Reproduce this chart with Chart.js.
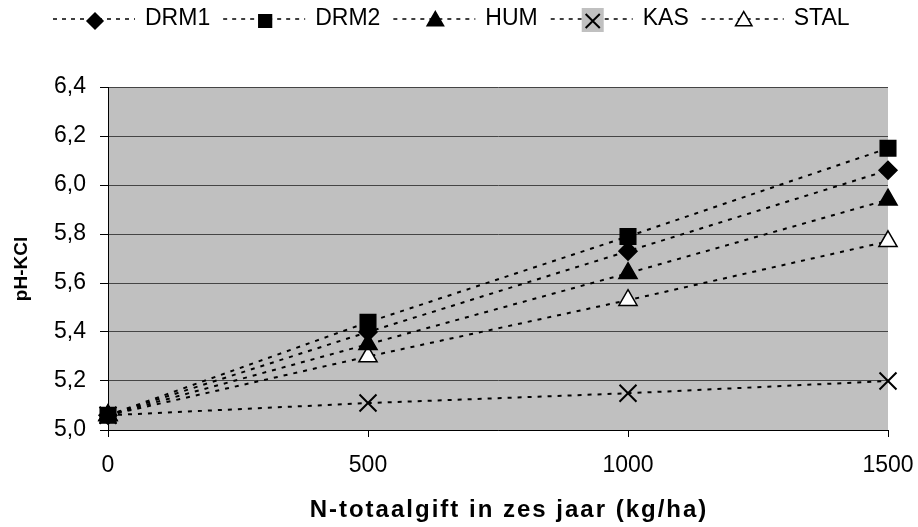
<!DOCTYPE html>
<html>
<head>
<meta charset="utf-8">
<script src="https://cdn.jsdelivr.net/npm/chart.js@4"></script>
<style>
  html, body { margin: 0; padding: 0; background: #fff; }
  #wrap { width: 918px; height: 527px; }
</style>
</head>
<body>
<div id="wrap"><canvas id="chart1" width="918" height="527"></canvas></div>
<script>
// N-gift (kg/ha) and pH-KCl per meststof
const nGift = [0, 500, 1000, 1500];
const drm1 = [5.06, 5.40, 5.73, 6.06];
const drm2 = [5.06, 5.44, 5.79, 6.15];
const hum = [5.06, 5.35, 5.64, 5.94];
const kas = [5.06, 5.11, 5.15, 5.20];
const stal = [5.06, 5.30, 5.53, 5.77];
const yTicks = ['5,0', '5,2', '5,4', '5,6', '5,8', '6,0', '6,2', '6,4'];
const xTitle = 'N-totaalgift in zes jaar (kg/ha)';
const yTitle = 'pH-KCl';

const FONT = "Arial, 'Liberation Sans', sans-serif";

function toPoints(values) {
    return nGift.map((x, i) => ({ x: x, y: values[i] }));
}

function series(label, values, style, radius, fill, legendRadius) {
    return {
        label: label,
        data: toPoints(values),
        borderColor: 'black',
        borderWidth: 2,
        borderDash: [4, 6],
        pointStyle: style,
        pointRadius: radius,
        pointHoverRadius: radius,
        pointBackgroundColor: fill,
        pointBorderColor: 'black',
        pointBorderWidth: style === 'crossRot' ? 2 : 1.5,
        legendRadius: legendRadius,
        fill: false,
        tension: 0,
    };
}

// grey plot background
const plotBg = {
    id: 'plotBg',
    beforeDraw(chart) {
        const a = chart.chartArea;
        const ctx = chart.ctx;
        ctx.save();
        ctx.fillStyle = '#c0c0c0';
        ctx.fillRect(a.left, a.top, a.right - a.left, a.bottom - a.top);
        ctx.restore();
    }
};

// axis titles, drawn by hand to get the spacing of the original
const axisTitles = {
    id: 'axisTitles',
    afterDraw(chart) {
        const ctx = chart.ctx;
        ctx.save();
        ctx.fillStyle = 'black';
        ctx.textAlign = 'center';
        ctx.textBaseline = 'middle';
        ctx.font = 'bold 24px ' + FONT;
        ctx.letterSpacing = '2px';
        ctx.fillText(xTitle, 509, 510);
        ctx.letterSpacing = '0px';
        ctx.font = 'bold 19px ' + FONT;
        ctx.translate(22, 269);
        ctx.rotate(-Math.PI / 2);
        ctx.fillText(yTitle, 0, 0);
        ctx.restore();
    }
};

// legend with dashed line + marker, like the original
const lineLegend = {
    id: 'lineLegend',
    afterDraw(chart) {
        const ctx = chart.ctx;
        const y = 19;
        const lineLen = 82;
        const gap = 10;
        const itemGap = 13;
        ctx.save();
        ctx.font = '23px ' + FONT;
        let x = 53;
        chart.data.datasets.forEach(ds => {
            ctx.setLineDash([4, 5]);
            ctx.lineWidth = 1.5;
            ctx.strokeStyle = 'black';
            ctx.beginPath();
            ctx.moveTo(x, y);
            ctx.lineTo(x + lineLen, y);
            ctx.stroke();
            ctx.setLineDash([]);
            const mx = x + 42;
            if (ds.label === 'KAS') {
                ctx.fillStyle = '#c0c0c0';
                ctx.fillRect(mx - 11, y - 11, 22, 24);
            }
            ctx.fillStyle = ds.pointBackgroundColor;
            ctx.strokeStyle = 'black';
            ctx.lineWidth = ds.pointBorderWidth;
            Chart.helpers.drawPoint(ctx, {
                pointStyle: ds.pointStyle,
                radius: ds.legendRadius,
                borderWidth: ds.pointBorderWidth,
            }, mx, y + 2);
            ctx.fillStyle = 'black';
            ctx.textBaseline = 'middle';
            ctx.textAlign = 'left';
            ctx.fillText(ds.label, x + lineLen + gap, y);
            x += lineLen + gap + ctx.measureText(ds.label).width + itemGap;
        });
        ctx.restore();
    }
};

const getChartElement = document.getElementById('chart1');
new Chart(getChartElement, {
    type: 'line',
    data: {
        datasets: [
            series('DRM1', drm1, 'rectRot', 9, 'black', 8),
            series('DRM2', drm2, 'rect', 11, 'black', 9),
            series('HUM', hum, 'triangle', 10.5, 'black', 9.5),
            series('KAS', kas, 'crossRot', 12, 'black', 10),
            series('STAL', stal, 'triangle', 10.5, 'white', 9.5),
        ]
    },
    options: {
        responsive: false,
        animation: false,
        clip: false,
        layout: {
            padding: { top: 87, right: 30, left: 0, bottom: 0 },
        },
        plugins: {
            legend: { display: false },
            tooltip: { enabled: false },
        },
        scales: {
            x: {
                type: 'linear',
                min: 0,
                max: 1500,
                afterBuildTicks: (scale) => {
                    scale.ticks = nGift.map(v => ({ value: v }));
                },
                afterFit: (scale) => {
                    scale.height = 97;
                    scale.paddingLeft = 0;
                    scale.paddingRight = 0;
                },
                title: { display: false },
                ticks: {
                    color: 'black',
                    font: { family: FONT, size: 23 },
                    padding: 15,
                    maxRotation: 0,
                    callback: (v) => String(v),
                },
                grid: {
                    drawOnChartArea: false,
                    drawTicks: true,
                    tickLength: 7,
                    tickColor: 'black',
                },
                border: { color: 'black', width: 1 },
            },
            y: {
                min: 5.0,
                max: 6.4,
                afterBuildTicks: (scale) => {
                    scale.ticks = yTicks.map(t => ({ value: parseFloat(t.replace(',', '.')) }));
                },
                afterFit: (scale) => {
                    scale.width = 108;
                    scale.paddingTop = 0;
                    scale.paddingBottom = 0;
                },
                title: { display: false },
                ticks: {
                    color: 'black',
                    font: { family: FONT, size: 23 },
                    padding: 14,
                    callback: (v) => yTicks.find(t => parseFloat(t.replace(',', '.')) === v) || '',
                },
                grid: {
                    color: '#454545',
                    lineWidth: 1,
                    tickLength: 8,
                    tickColor: 'black',
                },
                border: { color: 'black', width: 1 },
            },
        },
    },
    plugins: [plotBg, lineLegend, axisTitles],
});
</script>
</body>
</html>
